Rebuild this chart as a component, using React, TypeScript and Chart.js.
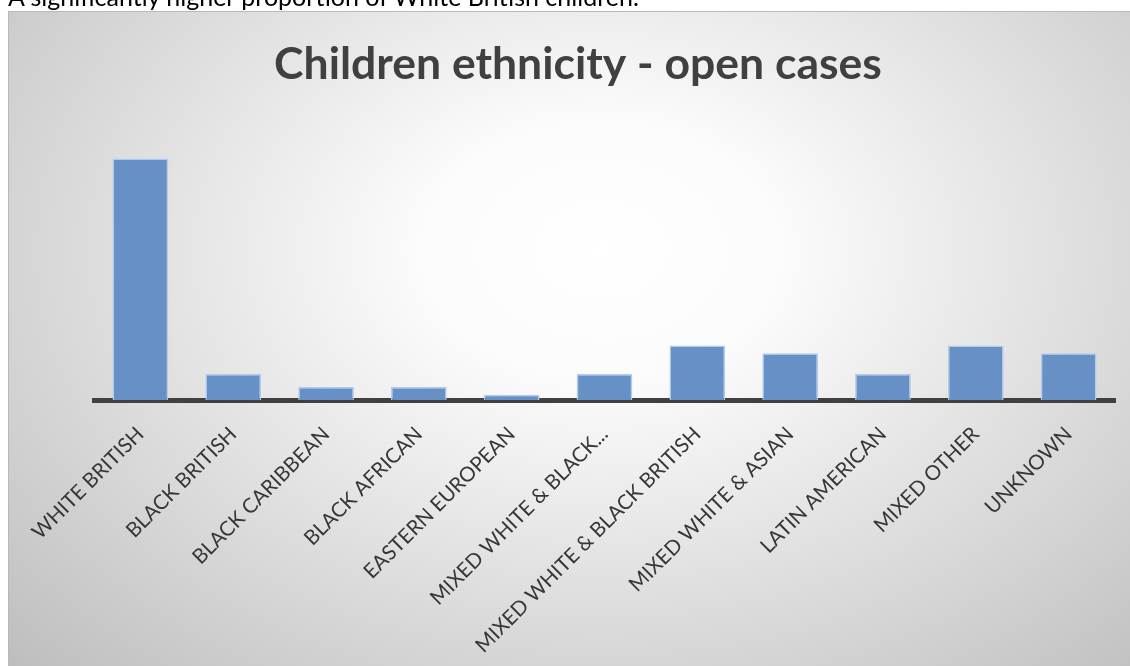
import React, { useEffect, useRef } from "react";
import { Chart, registerables } from "chart.js";

Chart.register(...registerables);

const categories = [
  "WHITE BRITISH",
  "BLACK BRITISH",
  "BLACK CARIBBEAN",
  "BLACK AFRICAN",
  "EASTERN EUROPEAN",
  "MIXED WHITE & BLACK...",
  "MIXED WHITE & BLACK BRITISH",
  "MIXED WHITE & ASIAN",
  "LATIN AMERICAN",
  "MIXED OTHER",
  "UNKNOWN",
];
const openCases = [93, 10, 5, 5, 2, 10, 21, 18, 10, 21, 18];
const yMax = 100;

export default function App() {
  const ref = useRef<HTMLCanvasElement | null>(null);

  useEffect(() => {
    document.body.style.overflow = "hidden";
    const c = ref.current;
    if (!c) return;
    const chart = new Chart(c, {
      type: "bar",
      data: {
        labels: categories,
        datasets: [
          {
            label: "Open cases",
            data: openCases,
            backgroundColor: "#6690c6",
            borderColor: "#b3cbea",
            borderWidth: 1.5,
            categoryPercentage: 0.6,
            barPercentage: 1,
          },
        ],
      },
      options: {
        animation: false,
        responsive: true,
        maintainAspectRatio: false,
        layout: { padding: { left: 32, right: 32, top: 0, bottom: 0 } },
        plugins: {
          legend: { display: false },
          tooltip: { enabled: false },
          title: {
            display: true,
            text: "Children ethnicity - open cases",
            color: "#404040",
            font: { family: "Lato", size: 44.5, weight: "bold" },
            padding: { top: 26, bottom: 49 },
          },
        },
        scales: {
          x: {
            z: 1,
            grid: { display: false },
            border: { display: true, color: "#404040", width: 5 },
            afterFit: (s: any) => {
              s.height = 274;
            },
            ticks: {
              maxRotation: 45,
              minRotation: 45,
              autoSkip: false,
              color: "#363636",
              padding: 14,
              font: { family: "Lato", size: 20.5 },
            },
          },
          y: {
            display: true,
            min: 0,
            max: yMax,
            grid: { display: false },
            border: { display: false },
            ticks: { display: false },
            afterFit: (s: any) => {
              s.width = 53;
            },
          },
        },
      },
    });
    return () => chart.destroy();
  }, []);

  return (
    <div>
      <div
        style={{
          position: "fixed",
          left: 8,
          top: -19,
          fontFamily: "Lato",
          fontSize: 25,
          color: "#000",
          whiteSpace: "nowrap",
        }}
      >
        A significantly higher proportion of White British children.
      </div>
      <div
        style={{
          position: "fixed",
          left: 8,
          top: 11,
          width: 1138,
          height: 662,
          borderTop: "1px solid #b8b8b8",
          borderLeft: "1px solid #b8b8b8",
          background:
            "radial-gradient(ellipse farthest-corner at 52% 36%, #ffffff 0%, #fbfbfb 22%, #bdbdbd 100%)",
        }}
      >
        <canvas ref={ref} />
      </div>
    </div>
  );
}
